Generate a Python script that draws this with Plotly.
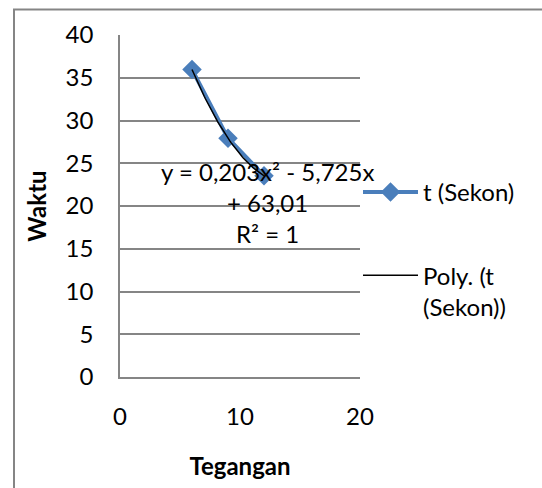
import numpy as np
import plotly.graph_objects as go

# Data
tegangan = [6, 9, 12]
waktu = [35.97, 27.93, 23.54]
series_name = "t (Sekon)"
trend_name = "Poly. (t<br>(Sekon))"
x_ticks = [0, 10, 20]
y_ticks = [0, 5, 10, 15, 20, 25, 30, 35, 40]
eq_lines = ["y = 0,203x² - 5,725x", "+ 63,01", "R² = 1"]

# polynomial trendline (order 2) fitted to the data, like Excel
coef = np.polyfit(tegangan, waktu, 2)
xs = np.linspace(min(tegangan), max(tegangan), 60)
ys = np.polyval(coef, xs)

FONT = "Lato"
FS = 24
BLUE = "#4A7EBB"
GRAY = "#858585"

fig = go.Figure()
fig.add_trace(go.Scatter(
    x=tegangan, y=waktu, mode="lines+markers", name=series_name,
    line=dict(color=BLUE, width=4),
    marker=dict(symbol="diamond", size=15, color=BLUE),
    legendgroup="a",
))
fig.add_trace(go.Scatter(
    x=xs, y=ys, mode="lines", name=trend_name,
    line=dict(color="black", width=1.5),
    legendgroup="b",
))

# equation annotation lines
eq_x = 12.28
eq_ys = [24.0, 20.46, 16.8]
for txt, yy in zip(eq_lines, eq_ys):
    fig.add_annotation(x=eq_x, y=yy, xref="x", yref="y", text=txt,
                       showarrow=False, font=dict(family=FONT, size=FS, color="black"),
                       xanchor="center", yanchor="middle")

L, R, T, B = 120, 182, 35, 103
W, H = 542, 488
pw, ph = W - L - R, H - T - B

def px_x(p):
    return (p - L) / pw

def px_y(p):
    return (H - B - p) / ph

fig.add_shape(type="rect", xref="paper", yref="paper",
              x0=px_x(14), x1=px_x(560), y0=px_y(500), y1=px_y(9),
              line=dict(color=GRAY, width=2), fillcolor="rgba(0,0,0,0)", layer="below")

fig.update_layout(
    width=W, height=H,
    margin=dict(l=L, r=R, t=T, b=B, pad=0),
    paper_bgcolor="white", plot_bgcolor="white",
    font=dict(family=FONT, size=FS, color="black"),
    showlegend=True,
    legend=dict(x=px_x(358), xanchor="left", y=px_y(173), yanchor="top",
                font=dict(family=FONT, size=FS, color="black"),
                bgcolor="rgba(0,0,0,0)", itemwidth=55, tracegroupgap=49,
                valign="top"),
)
fig.update_xaxes(
    range=[0, 20], tickvals=x_ticks, ticktext=[str(v) for v in x_ticks],
    showgrid=False, zeroline=False, showline=True, linecolor=GRAY, linewidth=1.5,
    ticks="", ticklabelstandoff=17,
    title=dict(text="<b>Tegangan</b>", font=dict(family=FONT, size=FS), standoff=30),
)
fig.update_yaxes(
    range=[0, 40], tickvals=y_ticks, ticktext=[str(v) for v in y_ticks],
    showgrid=True, gridcolor=GRAY, gridwidth=1.5,
    zeroline=False, showline=True, linecolor=GRAY, linewidth=1.5,
    ticks="", ticklabelstandoff=20,
    title=dict(text="<b>Waktu</b>", font=dict(family=FONT, size=FS), standoff=12),
)

fig.write_html("out.html")
